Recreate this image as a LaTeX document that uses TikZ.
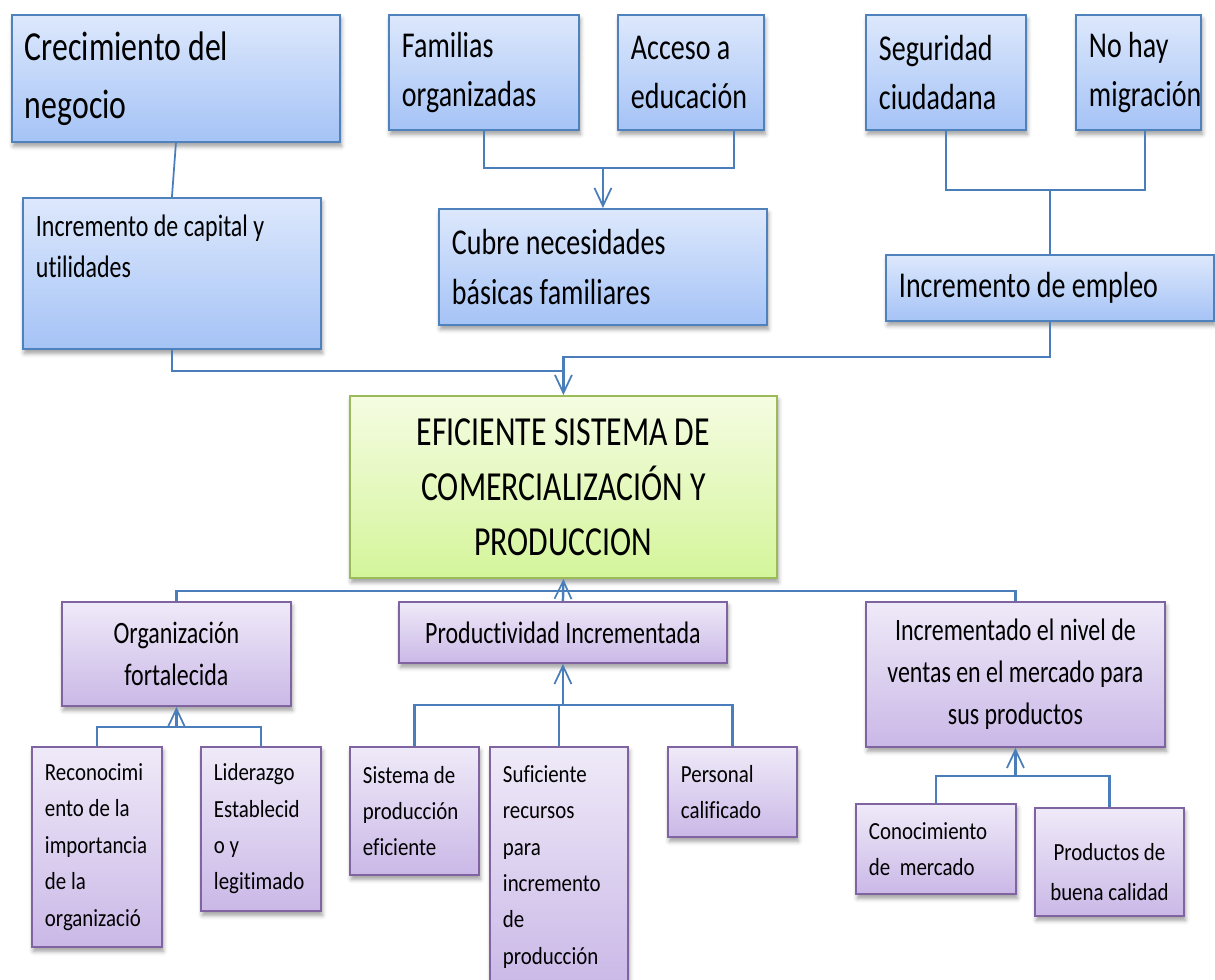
\documentclass[tikz,border=0pt]{standalone}
\usepackage{fontspec}
\setmainfont{Carlito}[Ligatures=NoCommon]
\newfontfamily\tallfont[FakeStretch=0.77, Ligatures=NoCommon]{Carlito}
\newfontfamily\tallsmall[FakeStretch=0.85, Ligatures=NoCommon]{Carlito}
\usepackage{tikz}
\usetikzlibrary{arrows.meta, positioning, calc, shadows.blur}
\hyphenpenalty=10000
\definecolor{bxblue}{HTML}{4F81BD}
\definecolor{bluetop}{HTML}{DDE8FC}
\definecolor{bluebot}{HTML}{A5C3F6}
\definecolor{bxgreen}{HTML}{9BBB59}
\definecolor{greentop}{HTML}{F5FCE2}
\definecolor{greenbot}{HTML}{D4F59A}
\definecolor{bxpurple}{HTML}{8064A2}
\definecolor{purpletop}{HTML}{EFEAF8}
\definecolor{purplebot}{HTML}{CAB8E7}
\definecolor{lnblue}{HTML}{4A7EBB}

\tikzset{
  box/.style={line width=1.1pt, anchor=north west, inner ysep=0pt, inner xsep=0.26cm,
    blur shadow={shadow xshift=0.8pt, shadow yshift=-2.4pt, shadow opacity=40, shadow blur radius=2.5pt}},
  bluebox/.style={box, draw=bxblue, top color=bluetop, bottom color=bluebot},
  greenbox/.style={box, draw=bxgreen, top color=greentop, bottom color=greenbot},
  purplebox/.style={box, draw=bxpurple, top color=purpletop, bottom color=purplebot},
  lefttext/.style={align=flush left},
  txtxl/.style={font=\tallfont\fontsize{23.5}{32.9}\selectfont},
  txtl/.style={font=\tallfont\fontsize{20.7}{28.3}\selectfont},
  txtm/.style={font=\tallfont\fontsize{17.7}{23.8}\selectfont},
  txts/.style={font=\tallsmall\fontsize{14}{20.7}\selectfont},
  link/.style={draw=lnblue, line width=1.4pt},
  uplink/.style={link, -{Straight Barb[length=3.6mm, width=3.4mm, line width=1pt]}},
}

\begin{document}
\begin{tikzpicture}[x=0.02cm, y=-0.02cm]
  \useasboundingbox (0,0) rectangle (1215,980);

  % Top row
  \node[bluebox, txtxl, lefttext, text width=6.04cm, minimum width=6.56cm, minimum height=2.54cm] (crec) at (11,14) {Crecimiento del\\negocio};
  \node[bluebox, txtl, lefttext, text width=3.28cm, minimum width=3.8cm, minimum height=2.3cm] (fam) at (388,14) {Familias\\organizadas};
  \node[bluebox, txtl, lefttext, text width=2.40cm, minimum width=2.92cm, minimum height=2.3cm] (acc) at (617,14) {Acceso a\\educación};
  \node[bluebox, txtl, lefttext, text width=2.68cm, minimum width=3.2cm, minimum height=2.3cm] (seg) at (865,14) {Seguridad\\ciudadana};
  \node[bluebox, txtl, lefttext, text width=1.98cm, minimum width=2.5cm, minimum height=2.3cm] (mig) at (1075,14) {No hay\\migración};

  % Second row
  \node[bluebox, txtm, lefttext, text width=5.44cm, minimum width=5.96cm, minimum height=3.02cm] (cap) at (22,197) {Incremento de capital y\\utilidades\\\strut};
  \node[bluebox, txtl, lefttext, text width=6.04cm, minimum width=6.56cm, minimum height=2.32cm] (nec) at (438,208) {Cubre necesidades\\básicas familiares};
  \node[bluebox, txtl, lefttext, text width=6.04cm, minimum width=6.56cm, minimum height=1.32cm] (emp) at (885,254) {Incremento de empleo};

  % Centre
  \node[greenbox, align=center, minimum width=8.54cm, minimum height=3.64cm, font=\tallfont\fontsize{23.5}{31.2}\selectfont] (sis) at (349,395) {EFICIENTE SISTEMA DE\\COMERCIALIZACIÓN Y\\PRODUCCION};

  % Lower row
  \node[purplebox, txtm, align=center, minimum width=4.58cm, minimum height=2.08cm] (org) at (61,601) {Organización\\fortalecida};
  \node[purplebox, txtm, align=center, minimum width=6.56cm, minimum height=1.22cm] (prod) at (398,601) {Productividad Incrementada};
  \node[purplebox, txtm, align=center, minimum width=5.98cm, minimum height=2.9cm] (ven) at (865,601) {Incrementado el nivel de\\ventas en el mercado para\\sus productos};

  % Bottom row
  \node[purplebox, txts, lefttext, text width=2.08cm, minimum width=2.6cm, minimum height=4.0cm] (rec) at (31,746) {Reconocimi\\ento de la\\importancia\\de la\\organizació};
  \node[purplebox, txts, lefttext, text width=1.88cm, minimum width=2.4cm, minimum height=3.28cm] (lid) at (200,746) {Liderazgo\\Establecid\\o y\\legitimado};
  \node[purplebox, txts, lefttext, text width=2.06cm, minimum width=2.58cm, minimum height=2.56cm] (spe) at (349,746) {Sistema de\\producción\\eficiente};
  \node[purplebox, txts, lefttext, text width=2.24cm, minimum width=2.76cm, minimum height=4.8cm] (rcs) at (489,746) {Suficiente\\recursos\\para\\incremento\\de\\producción};
  \node[purplebox, txts, lefttext, text width=2.06cm, minimum width=2.58cm, minimum height=1.8cm] (per) at (667,746) {Personal\\calificado};
  \node[purplebox, txts, lefttext, text width=2.68cm, minimum width=3.2cm, minimum height=1.8cm] (con) at (855,803) {Conocimiento\\de\ \ mercado};
  \node[purplebox, txts, align=center, minimum width=2.98cm, minimum height=2.16cm, font=\tallsmall\fontsize{14}{22.7}\selectfont] (cal) at (1034,807) {\strut\\[-0.62cm]Productos de\\buena calidad};

  % Junctions
  \coordinate (jfam) at (nec.north |- 0,168);
  \coordinate (jseg) at (emp.north |- 0,190);
  \coordinate (jcap) at (sis.north |- 0,371);
  \coordinate (jemp) at (sis.north |- 0,357);
  \coordinate (jorg) at (sis.south |- 0,591);
  \coordinate (jrec) at (org.south |- 0,727);
  \coordinate (jspe) at (prod.south |- 0,705);
  \coordinate (jcon) at (ven.south |- 0,776);

  % Upper connectors
  \draw[link, line width=1pt] (crec.south) -- (cap.north);
  \draw[link] (fam.south) |- (jfam) -| ([xshift=-0.62cm]acc.south east);
  \draw[uplink] (jfam) -- (nec.north);
  \draw[link] (seg.south) |- (jseg) -| ([xshift=0.13cm]mig.south);
  \draw[link] (jseg) -- (emp.north);
  \draw[link] (cap.south) |- (jcap);
  \draw[link] (emp.south) |- (jemp) -- (jcap);
  \draw[uplink] (jcap) -- (sis.north);

  % Lower connectors
  \draw[link] (org.north) |- (jorg) -| (ven.north);
  \draw[uplink] (prod.north) -- (sis.south);
  \draw[link] (rec.north) |- (jrec) -| (lid.north);
  \draw[uplink] (jrec) -- (org.south);
  \draw[link] (spe.north) |- (jspe) -| (per.north);
  \draw[link] (rcs.north) -- (rcs.north |- jspe);
  \draw[uplink] (jspe) -- (prod.south);
  \draw[link] (con.north) |- (jcon) -| (cal.north);
  \draw[uplink] (jcon) -- (ven.south);
\end{tikzpicture}
\end{document}
